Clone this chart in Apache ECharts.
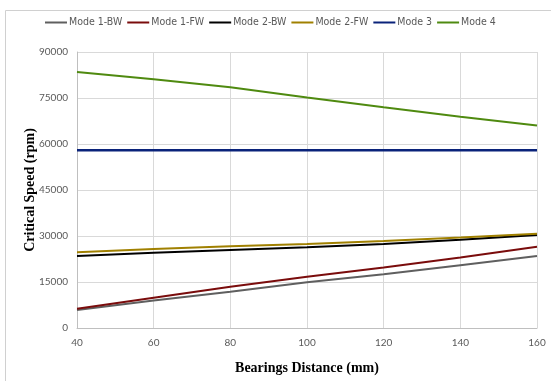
<!DOCTYPE html>
<html><head><meta charset="utf-8">
<script src="https://cdn.jsdelivr.net/npm/echarts@6/dist/echarts.min.js"></script>
<style>html,body{margin:0;padding:0;background:#fff}#c{width:551px;height:381px}</style>
</head><body><div id="c"></div>
<script>
var distances = [40, 60, 80, 100, 120, 140, 160];
var seriesNames = ['Mode 1-BW', 'Mode 1-FW', 'Mode 2-BW', 'Mode 2-FW', 'Mode 3', 'Mode 4'];
var mode1BW = [5900, 9000, 11850, 14900, 17500, 20500, 23500];
var mode1FW = [6300, 9870, 13450, 16700, 19700, 23000, 26500];
var mode2BW = [23500, 24550, 25430, 26300, 27400, 28800, 30300];
var mode2FW = [24700, 25760, 26640, 27400, 28370, 29500, 30750];
var mode3 = [58000, 58000, 58000, 58000, 58000, 58000, 58000];
var mode4 = [83500, 81100, 78500, 75200, 72000, 68900, 66000];
var yTicks = [0, 15000, 30000, 45000, 60000, 75000, 90000];
var colors = ['#5f5f5f', '#7a0c0c', '#000000', '#a08000', '#0a237a', '#4f8a10'];

var allValues = [mode1BW, mode1FW, mode2BW, mode2FW, mode3, mode4];
function pairs(v){ return distances.map(function(d,i){ return [d, v[i]]; }); }

var chart = echarts.init(document.getElementById('c'), null, {renderer:'canvas'});
chart.setOption({
  animation: false,
  backgroundColor: '#fff',
  color: colors,
  graphic: [{type:'rect', shape:{x:5.5, y:10.5, width:560, height:380}, style:{fill:'none', stroke:'#d0d0d0', lineWidth:1}, silent:true}],
  legend: {
    top: 12, left: 40, itemGap: 5, itemWidth: 22, itemHeight: 2,
    icon: 'rect',
    textStyle: {fontFamily: '"Liberation Sans Narrow", "DejaVu Sans Condensed", Lato', fontSize: 10.5, color: '#595959', padding: [0, 0, 0, -3]},
    data: seriesNames
  },
  grid: {left: 77, right: 14, top: 52, bottom: 53},
  xAxis: {
    type: 'value', min: 40, max: 160, interval: 20,
    name: 'Bearings Distance (mm)', nameLocation: 'middle', nameGap: 33, nameMoveOverlap: false,
    nameTextStyle: {fontFamily: 'Liberation Serif', fontWeight: 'bold', fontSize: 14, color: '#000'},
    axisLine: {lineStyle: {color: '#bfbfbf'}},
    axisTick: {show: false},
    axisLabel: {fontFamily: 'Lato', fontSize: 10, color: '#595959', margin: 10},
    splitLine: {show: true, lineStyle: {color: '#d9d9d9'}}
  },
  yAxis: {
    type: 'value', min: yTicks[0], max: yTicks[yTicks.length-1], interval: yTicks[1]-yTicks[0],
    name: 'Critical Speed (rpm)', nameLocation: 'middle', nameGap: 40, nameRotate: 90, nameMoveOverlap: false,
    nameTextStyle: {fontFamily: 'Liberation Serif', fontWeight: 'bold', fontSize: 14, color: '#000'},
    axisLine: {show: true, lineStyle: {color: '#bfbfbf'}},
    axisTick: {show: false},
    axisLabel: {fontFamily: 'Lato', fontSize: 10, color: '#595959', margin: 9, formatter: function(v){ return String(v); }},
    splitLine: {show: true, lineStyle: {color: '#d9d9d9'}}
  },
  series: seriesNames.map(function(n, i){
    return {name: n, type: 'line', data: pairs(allValues[i]), showSymbol: false, symbol: 'none',
      lineStyle: {width: i === 4 ? 2.5 : 2, color: colors[i]}, itemStyle:{color: colors[i]}};
  })
});
</script></body></html>
